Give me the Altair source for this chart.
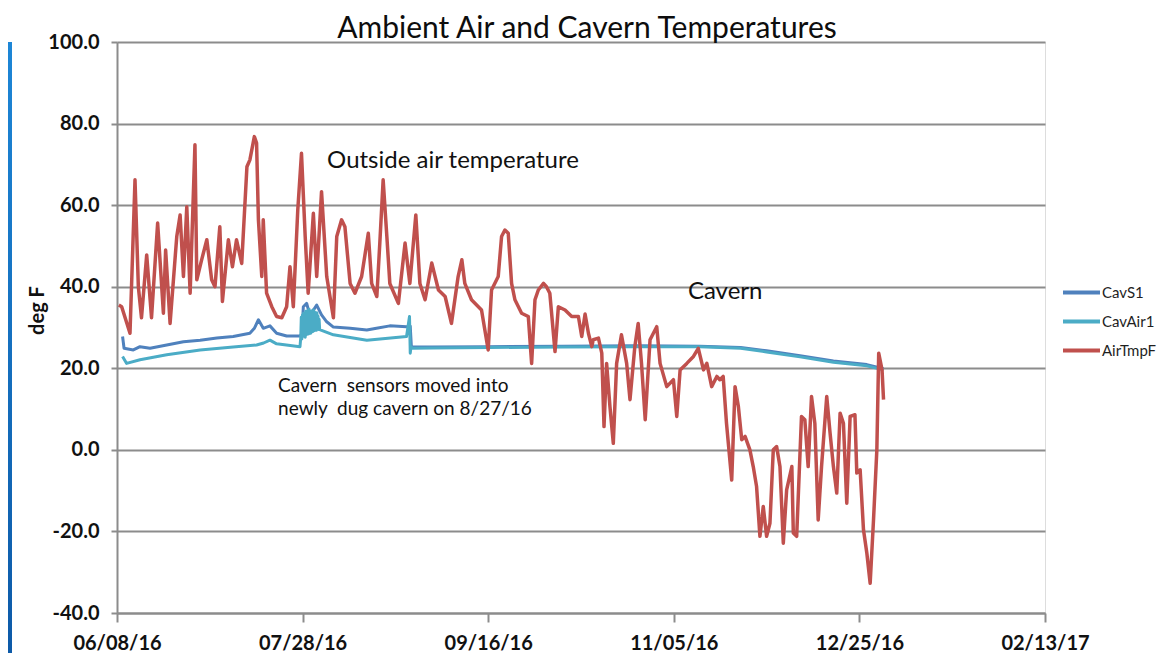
import altair as alt
import pandas as pd

# ---------------- data ----------------
title_text = "Ambient Air and Cavern Temperatures"
y_title = "deg F"
start_date = "2016-06-08"
x_tick_dates = [(2016, 6, 8), (2016, 7, 28), (2016, 9, 16), (2016, 11, 5), (2016, 12, 25), (2017, 2, 13)]
y_ticks = [-40, -20, 0, 20, 40, 60, 80, 100]
series_names = ["CavS1", "CavAir1", "AirTmpF"]
series_colors = ["#4F81BD", "#4BACC6", "#C0504D"]

# outside air temperature (days after 06/08/16, deg F)
air_days = [0.5, 1.26, 3.5, 4.85, 5.75, 6.6, 8.0, 9.3, 10.95, 12.5, 13.1, 14.3, 16.1, 17.0, 17.9,
            18.8, 19.7, 21.0, 21.5, 22.8, 24.2, 25.5, 26.4, 27.7, 28.4, 30.0, 31.1, 32.2, 33.6,
            35.0, 35.8, 37.0, 37.6, 38.1, 39.0, 39.4, 40.3, 41.7, 43.0, 44.4, 45.7, 46.6, 47.5,
            48.7, 49.7, 50.7, 51.5, 52.9, 53.8, 55.1, 56.5, 58.3, 59.2, 60.5, 61.4,
            62.8, 64.1, 65.9, 67.7, 68.6, 70.0, 70.8, 71.7, 72.7, 73.5, 75.8, 77.6, 78.9, 80.5,
            81.6, 83.0, 84.8, 86.6, 88.4, 90.1, 91.9, 92.9, 93.7, 95.5, 98.2, 100.0, 100.9,
            102.7, 103.6, 104.5, 105.4, 106.3, 107.2, 109.0, 110.8, 111.7, 112.6, 113.5, 114.9,
            115.7, 116.6, 118.0, 118.9, 120.7, 122.5, 124.3, 125.2, 126.1, 127.0, 127.9, 128.3,
            129.7, 130.6, 131.2, 131.9, 132.8, 133.7, 134.6, 135.9, 137.3, 138.2, 139.5, 140.4,
            141.3, 142.3, 143.6, 145.4, 146.3, 148.1, 149.9, 150.8, 151.7, 153.5, 155.3, 156.6,
            158.0, 158.9, 160.2, 161.6, 162.4, 163.3, 164.2, 165.6, 166.5, 167.4, 168.3, 169.2,
            170.5, 171.4, 172.3, 173.2, 174.1, 175.0, 175.9, 176.8, 177.7, 178.6, 179.5, 180.4,
            181.8, 182.2, 183.1, 184.4, 185.3, 186.2, 187.1, 188.0, 188.9, 189.8, 191.2, 192.1,
            193.0, 193.9, 194.8, 195.7, 196.6, 197.5, 198.8, 199.3, 200.2, 201.1, 202.0, 202.9,
            203.8, 204.7, 205.2, 206.1, 206.5]
air_vals = [35.5, 35.1, 28.6, 66.2, 40.0, 32.4, 47.8, 32.4, 55.6, 33.5, 49.0, 31.0, 52.3, 57.6, 42.5,
            59.6, 38.4, 74.8, 41.7, 46.6, 51.5, 41.7, 40.0, 54.7, 36.4, 51.5, 44.9, 51.5, 45.7,
            69.4, 71.1, 76.8, 75.2, 56.4, 42.5, 56.4, 38.4, 35.1, 32.7, 32.4, 35.1, 44.9, 35.1,
            58.8, 72.7, 52.3, 38.4, 58.0, 42.5, 63.3, 42.5, 32.4, 52.3, 56.4, 54.7,
            40.8, 38.4, 42.5, 53.1, 40.8, 37.6, 50.7, 66.2, 52.3, 40.8, 35.9, 50.7, 40.8, 57.6,
            40.8, 36.8, 45.8, 39.2, 37.6, 31.0, 42.5, 46.6, 40.8, 36.8, 34.3, 24.5, 39.2,
            42.5, 52.3, 53.9, 53.1, 40.8, 36.8, 33.5, 32.7, 21.2, 36.8, 39.2, 40.8,
            40.0, 38.4, 24.1, 35.1, 34.3, 32.7, 32.7, 27.8, 33.3, 28.6, 25.3, 27.0,
            27.4, 23.7, 5.7, 21.2, 10.6, 1.6, 21.2, 28.2, 21.2, 12.3, 25.3, 31.0,
            21.2, 7.4, 27.0, 30.2, 21.2, 15.5, 17.2, 8.2, 19.6, 21.2, 22.9, 24.9,
            19.6, 21.2, 15.5, 18.0, 17.2, 18.0, 6.5, -7.4, 15.5, 10.6, 2.5, 3.3,
            0.0, -4.1, -9.0, -21.2, -13.9, -21.2, -18.0, 0.0, 0.8, -4.1, -22.9, -9.8,
            -4.1, -20.4, -21.2, 8.2, 7.4, -4.1, 13.1, 6.5, -17.2, -4.1, 13.1, 4.1,
            -4.1, -10.6, 9.0, 6.5, -13.1, 8.2, 8.6, -5.7, -4.9, -19.6, -25.3, -32.7,
            -17.2, 0.0, 23.7, 19.6, 12.3]

# cavern sensor 1
cs1_days = [1.5, 1.9, 4.4, 6.2, 8.9, 13.4, 17.9, 22.4, 26.9, 31.3, 35.8, 37.0, 38.1, 39.4, 41.2,
            43.0, 45.7, 49.3, 49.8, 50.2, 51.1, 51.8, 52.4, 53.1, 53.8, 55.1, 56.5, 58.3, 62.8,
            67.3, 69.9, 73.5, 78.0, 79.0, 79.3, 85.0, 100.0, 120.0, 140.0, 157.0, 168.0, 175.0,
            184.0, 193.0, 202.0, 206.5]
cs1_vals = [27.8, 24.9, 24.5, 25.3, 24.9, 25.7, 26.5, 26.9, 27.4, 27.8, 28.6, 29.8, 31.9, 29.8, 30.4,
            28.6, 27.9, 27.9, 28.5, 35.1, 35.9, 33.5, 33.9, 34.5, 35.5, 33.1, 31.4, 30.1, 29.8,
            29.4, 29.8, 30.4, 30.2, 30.3, 25.3, 25.2, 25.3, 25.4, 25.5, 25.4, 25.1, 24.3,
            23.1, 21.8, 20.9, 19.9]

# cavern air sensor 1 (the 50-55 day stretch swings daily between ~27 and ~34)
ca1_days = [1.5, 2.6, 6.2, 13.4, 22.4, 31.3, 37.6, 39.5, 41.2, 43.0, 49.3,
            49.5, 49.65, 49.8, 49.95, 50.1, 50.25, 50.4, 50.55, 50.7, 50.85, 51.0, 51.15, 51.3,
            51.45, 51.6, 51.75, 51.9, 52.05, 52.2, 52.35, 52.5, 52.65, 52.8, 52.95, 53.1, 53.25,
            53.4, 53.55, 53.7, 53.85, 54.0, 54.15, 54.3, 54.45, 54.6,
            56.0, 58.3, 67.3, 78.0, 78.8, 79.0, 79.2, 79.6, 85.0, 100.0, 120.0, 140.0, 157.0,
            168.0, 175.0, 184.0, 193.0, 202.0, 206.5]
ca1_vals = [22.9, 21.2, 22.1, 23.3, 24.5, 25.2, 25.7, 26.2, 26.9, 26.0, 25.3,
            27.5, 32.5, 27.2, 33.0, 27.8, 33.5, 28.0, 33.0, 27.6, 34.0, 28.2, 33.8, 28.5,
            34.2, 28.4, 34.5, 28.8, 33.6, 28.6, 34.0, 28.9, 33.5, 29.0, 34.3, 29.2, 33.8,
            29.4, 33.2, 29.3, 33.6, 29.6, 32.8, 29.5, 32.0, 29.5,
            29.0, 28.2, 26.9, 27.8, 32.7, 23.7, 25.3, 24.9, 25.0, 25.1, 25.2, 25.3, 25.3,
            24.9, 24.0, 22.8, 21.5, 20.6, 19.6]

# annotations (anchor day, anchor value, text)
big_notes = ["Outside air temperature", "Cavern"]
big_note_days = [56.6, 153.8]
big_note_vals = [70.8, 38.7]
small_notes = ["Cavern \u00a0sensors moved into", "newly \u00a0dug cavern on 8/27/16"]
small_note_days = [43.4, 43.4]
small_note_vals = [15.7, 10.0]

# ---------------- build tables ----------------
base = pd.Timestamp(start_date)


def to_dates(days):
    return base + pd.to_timedelta(days, unit="D")


frames = []
for name, d, v in [("CavS1", cs1_days, cs1_vals), ("CavAir1", ca1_days, ca1_vals),
                   ("AirTmpF", air_days, air_vals)]:
    frames.append(pd.DataFrame({"series": name, "date": to_dates(d), "value": v}))
df = pd.concat(frames, ignore_index=True)

big_df = pd.DataFrame({"date": to_dates(big_note_days), "value": big_note_vals, "text": big_notes})
small_df = pd.DataFrame({"date": to_dates(small_note_days), "value": small_note_vals, "text": small_notes})

GRID = "#8c8c8c"
FONT = "Lato"

x_dom = [alt.DateTime(year=x_tick_dates[0][0], month=x_tick_dates[0][1], date=x_tick_dates[0][2]),
         alt.DateTime(year=x_tick_dates[-1][0], month=x_tick_dates[-1][1], date=x_tick_dates[-1][2])]
x_vals = [alt.DateTime(year=a, month=b, date=c) for a, b, c in x_tick_dates]

x_enc = alt.X("date:T", scale=alt.Scale(domain=x_dom, nice=False),
              axis=alt.Axis(values=x_vals, format="%m/%d/%y", title=None, grid=False,
                            labelFont=FONT, labelFontSize=20, labelFontWeight="bold",
                            labelColor="#111111", labelPadding=11, labelFlush=False,
                            labelOverlap=False, tickSize=9, tickWidth=2, tickColor=GRID,
                            domainColor=GRID, domainWidth=2))
y_enc = alt.Y("value:Q", scale=alt.Scale(domain=[-40, 100], nice=False, zero=False),
              axis=alt.Axis(values=y_ticks,
                            labelExpr="datum.value < 0 ? '-' + format(-datum.value, '.1f') : format(datum.value, '.1f')",
                            title=y_title, grid=True,
                            gridColor=GRID, gridWidth=2, labelFont=FONT, labelFontSize=20,
                            labelFontWeight="bold", labelColor="#111111", labelPadding=12,
                            tickSize=6, tickWidth=2, tickColor=GRID, domainColor=GRID,
                            domainWidth=2, titleFont=FONT, titleFontSize=20,
                            titleFontWeight="bold", titleColor="#111111", titleAngle=270,
                            titleAlign="center", titleBaseline="middle",
                            titleX=-80, titleY=268))

color_enc = alt.Color("series:N",
                      scale=alt.Scale(domain=series_names, range=series_colors),
                      legend=alt.Legend(title=None, orient="none", legendX=944, legendY=230,
                                        symbolType="stroke", symbolStrokeWidth=4,
                                        symbolSize=1369, labelFont=FONT, labelFontSize=15,
                                        labelColor="#1f1f1f", labelOffset=0, rowPadding=0))

layers = []
for name in series_names:
    layers.append(
        alt.Chart(df).transform_filter(alt.datum.series == name)
        .mark_line(strokeWidth=3.5 if name == "AirTmpF" else 3, strokeJoin="round")
        .encode(x=x_enc, y=y_enc, color=color_enc)
    )

big_text = alt.Chart(big_df).mark_text(align="left", baseline="middle", font=FONT,
                                       fontSize=24, color="#111111").encode(
    x="date:T", y="value:Q", text="text:N")
small_text = alt.Chart(small_df).mark_text(align="left", baseline="middle", font=FONT,
                                           fontSize=19, color="#111111").encode(
    x="date:T", y="value:Q", text="text:N")

# slide edge strip (decoration)
strip = alt.Chart(pd.DataFrame({"k": [0]})).mark_rect(
    color=alt.Gradient(gradient="linear", x1=0, y1=0, x2=0, y2=1,
                       stops=[alt.GradientStop(color="#1d86d6", offset=0),
                              alt.GradientStop(color="#0d5aa8", offset=1)])
).encode(x=alt.value(-109), x2=alt.value(-105), y=alt.value(0), y2=alt.value(611))

chart = alt.layer(*layers, big_text, small_text, strip).properties(
    width=928, height=571,
    title=alt.TitleParams(title_text, font=FONT, fontSize=30, fontWeight="normal",
                          color="#0d0d0d", anchor="middle", dx=6, offset=-12),
    autosize=alt.AutoSizeParams(type="none"),
    padding={"left": 109, "top": 34, "right": 113, "bottom": 40},
).configure_view(stroke=None).configure(background="white")

chart.save("out.html", embed_options={"renderer": "svg", "actions": False})
